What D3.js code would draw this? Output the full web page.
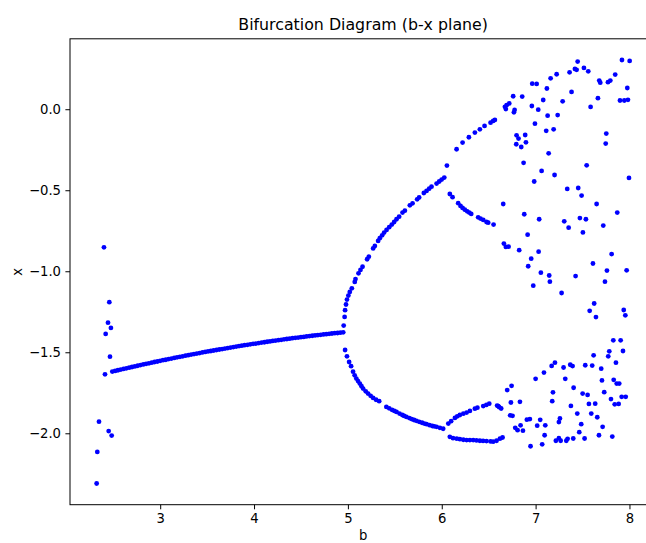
<!DOCTYPE html>
<html>
<head>
<meta charset="utf-8">
<script src="https://cdn.jsdelivr.net/npm/d3@7"></script>
<style>
  html, body { margin: 0; padding: 0; background: #fff; }
  svg { display: block; font-family: "DejaVu Sans", sans-serif; }
</style>
</head>
<body>
<div id="chart"></div>
<script>
// Bifurcation diagram: each entry is [b, x].

// scattered transient points at small b
const transientPts = [
  [2.401,-0.852],[2.458,-1.191],[2.444,-1.317],[2.475,-1.350],[2.419,-1.387],
  [2.465,-1.527],[2.412,-1.636],[2.348,-1.928],[2.451,-1.986],[2.483,-2.014],
  [2.330,-2.115],[2.323,-2.310]
];

// stable fixed point branch
const fixedBranch = [
  [2.49,-1.619],[2.52,-1.615],[2.55,-1.611],[2.58,-1.607],[2.61,-1.603],[2.64,-1.599],
  [2.67,-1.595],[2.70,-1.591],[2.73,-1.587],[2.76,-1.583],[2.79,-1.579],[2.82,-1.575],
  [2.85,-1.571],[2.88,-1.568],[2.91,-1.564],[2.94,-1.560],[2.97,-1.557],[3.00,-1.553],
  [3.03,-1.549],[3.06,-1.546],[3.09,-1.542],[3.12,-1.539],[3.15,-1.535],[3.18,-1.531],
  [3.21,-1.528],[3.24,-1.525],[3.27,-1.521],[3.30,-1.518],[3.33,-1.514],[3.36,-1.511],
  [3.39,-1.508],[3.42,-1.505],[3.45,-1.501],[3.48,-1.498],[3.51,-1.495],[3.54,-1.492],
  [3.57,-1.489],[3.60,-1.486],[3.63,-1.483],[3.66,-1.480],[3.69,-1.477],[3.72,-1.474],
  [3.75,-1.471],[3.78,-1.468],[3.81,-1.465],[3.84,-1.462],[3.87,-1.459],[3.90,-1.456],
  [3.93,-1.454],[3.96,-1.451],[3.99,-1.448],[4.02,-1.446],[4.05,-1.443],[4.08,-1.440],
  [4.11,-1.438],[4.14,-1.435],[4.17,-1.433],[4.20,-1.430],[4.23,-1.428],[4.26,-1.425],
  [4.29,-1.423],[4.32,-1.420],[4.35,-1.418],[4.38,-1.416],[4.41,-1.413],[4.44,-1.411],
  [4.47,-1.409],[4.50,-1.407],[4.53,-1.405],[4.56,-1.402],[4.59,-1.400],[4.62,-1.398],
  [4.65,-1.396],[4.68,-1.394],[4.71,-1.392],[4.74,-1.390],[4.77,-1.388],[4.80,-1.386],
  [4.83,-1.384],[4.86,-1.382],[4.89,-1.381],[4.92,-1.379],[4.95,-1.377]
];

// period-2 orbit, upper branch
const period2Upper = [
  [4.955,-1.335],[4.965,-1.282],[4.970,-1.240],[4.980,-1.205],[4.990,-1.175],
  [5.005,-1.150],[5.020,-1.128],[5.042,-1.105],[5.073,-1.066],[5.081,-1.048],
  [5.113,-1.013],[5.134,-0.992],[5.156,-0.972],[5.205,-0.926],[5.223,-0.910],
  [5.269,-0.859],[5.287,-0.844],[5.322,-0.813],[5.340,-0.796],[5.365,-0.778],
  [5.386,-0.761],[5.412,-0.745],[5.440,-0.728],[5.468,-0.712],[5.493,-0.696],
  [5.518,-0.679],[5.546,-0.663],[5.582,-0.638],[5.607,-0.626],[5.660,-0.593],
  [5.689,-0.581],[5.738,-0.556],[5.759,-0.544],[5.809,-0.517],[5.838,-0.504],
  [5.866,-0.490],[5.891,-0.478],[5.945,-0.459],[5.973,-0.446],[5.999,-0.434],
  [6.027,-0.422]
];

// period-2 orbit, lower branch
const period2Lower = [
  [4.970,-1.486],[4.990,-1.525],[5.013,-1.560],[5.034,-1.586],[5.055,-1.620],
  [5.072,-1.642],[5.090,-1.662],[5.108,-1.678],[5.127,-1.693],[5.145,-1.709],
  [5.162,-1.724],[5.190,-1.741],[5.215,-1.755],[5.242,-1.769],[5.269,-1.782],
  [5.300,-1.793],[5.333,-1.802],[5.410,-1.837],[5.440,-1.846],[5.470,-1.855],
  [5.495,-1.862],[5.518,-1.868],[5.550,-1.878],[5.580,-1.887],[5.600,-1.893],
  [5.624,-1.899],[5.655,-1.906],[5.680,-1.912],[5.705,-1.918],[5.731,-1.923],
  [5.760,-1.929],[5.790,-1.935],[5.815,-1.940],[5.838,-1.944],[5.870,-1.950],
  [5.900,-1.955],[5.920,-1.957],[5.945,-1.960],[5.980,-1.966],[6.015,-1.972]
];

// period-4 orbit, four branches
const period4Pts = [
  // upper-upper
  [6.055,-0.348],[6.158,-0.247],[6.222,-0.206],[6.289,-0.173],[6.353,-0.144],
  [6.406,-0.124],[6.456,-0.103],[6.520,-0.083],[6.548,-0.072],[6.566,-0.066],
  // upper-lower
  [6.086,-0.523],[6.115,-0.543],[6.175,-0.580],[6.200,-0.597],[6.222,-0.609],
  [6.246,-0.620],[6.271,-0.630],[6.293,-0.638],[6.314,-0.646],[6.388,-0.667],
  [6.413,-0.675],[6.442,-0.683],[6.477,-0.696],[6.495,-0.700],[6.552,-0.712],
  // lower-upper
  [6.070,-1.940],[6.100,-1.925],[6.140,-1.905],[6.165,-1.895],[6.193,-1.887],
  [6.230,-1.879],[6.265,-1.872],[6.300,-1.862],[6.353,-1.848],[6.380,-1.842],
  [6.442,-1.832],[6.475,-1.825],[6.506,-1.817],[6.590,-1.829],[6.602,-1.832],
  [6.612,-1.839],[6.633,-1.847],
  // lower-lower
  [6.086,-2.022],[6.120,-2.030],[6.160,-2.033],[6.193,-2.036],[6.230,-2.040],
  [6.265,-2.042],[6.300,-2.042],[6.335,-2.042],[6.370,-2.044],[6.406,-2.046],
  [6.440,-2.047],[6.477,-2.048],[6.520,-2.050],[6.548,-2.052],[6.584,-2.046],
  [6.620,-2.033],[6.648,-2.026]
];

// chaotic regime
const chaosPts = [
  [7.920,0.304],[8.002,0.298],[7.448,0.294],[7.515,0.255],[7.561,0.234],[7.419,0.249],
  [7.437,0.243],[7.362,0.228],[7.848,0.214],[7.224,0.216],[7.160,0.191],[7.678,0.177],
  [7.689,0.164],[7.771,0.167],[7.796,0.177],[6.964,0.158],[7.011,0.156],[7.120,0.128],
  [7.977,0.131],[7.383,0.107],[6.761,0.080],[6.857,0.078],[7.664,0.068],[7.899,0.054],
  [7.945,0.054],[7.984,0.058],[7.081,0.057],[7.288,0.049],[6.719,0.036],[6.691,0.025],
  [6.673,0.015],[6.683,0.001],[6.776,-0.004],[6.769,-0.019],[6.960,0.020],[7.028,-0.003],
  [7.586,0.014],[7.128,-0.040],[7.235,-0.036],[6.993,-0.089],[7.113,-0.133],[7.192,-0.124],
  [6.797,-0.161],[6.818,-0.181],[6.889,-0.159],[6.794,-0.216],[6.847,-0.233],[6.897,-0.204],
  [7.753,-0.150],[7.747,-0.212],[7.139,-0.272],[6.872,-0.331],[7.544,-0.346],[7.064,-0.381],
  [7.202,-0.406],[6.985,-0.446],[7.995,-0.424],[7.337,-0.492],[7.454,-0.486],[7.490,-0.533],
  [6.655,-0.585],[7.650,-0.585],[7.870,-0.638],[6.879,-0.648],[7.038,-0.679],[7.305,-0.692],
  [7.472,-0.672],[7.536,-0.679],[7.352,-0.731],[7.504,-0.760],[7.721,-0.718],[6.915,-0.774],
  [6.662,-0.829],[6.683,-0.850],[6.712,-0.848],[6.825,-0.870],[7.032,-0.879],[6.953,-0.922],
  [6.921,-0.969],[7.810,-0.894],[7.611,-0.952],[7.760,-0.996],[7.970,-0.994],[7.056,-1.009],
  [7.145,-1.026],[7.152,-1.064],[7.426,-1.030],[7.739,-1.064],[6.975,-1.089],[7.277,-1.134],
  [7.624,-1.199],[7.576,-1.244],[7.643,-1.283],[7.939,-1.239],[7.956,-1.272],
  [7.828,-1.426],[7.906,-1.426],[7.785,-1.494],[7.931,-1.492],[7.774,-1.525],[7.618,-1.519],
  [7.856,-1.564],[7.206,-1.564],[7.171,-1.584],[7.089,-1.625],[7.369,-1.577],[7.394,-1.585],
  [7.298,-1.594],[7.529,-1.580],[7.603,-1.582],[7.699,-1.601],[7.000,-1.664],[7.316,-1.664],
  [7.707,-1.674],[7.832,-1.670],[7.864,-1.693],[7.891,-1.693],[6.744,-1.707],[6.697,-1.733],
  [7.405,-1.719],[7.731,-1.746],[7.185,-1.747],[7.501,-1.755],[7.554,-1.763],[7.803,-1.789],
  [7.917,-1.775],[7.960,-1.775],[7.843,-1.821],[7.885,-1.819],[7.177,-1.802],[7.376,-1.831],
  [7.568,-1.819],[7.635,-1.817],[6.737,-1.810],[6.833,-1.806],[7.444,-1.878],[7.593,-1.878],
  [7.657,-1.901],[6.729,-1.889],[6.754,-1.892],[7.259,-1.908],[7.248,-1.931],[6.907,-1.916],
  [6.939,-1.912],[7.049,-1.917],[7.486,-1.944],[7.714,-1.960],[6.840,-1.951],[6.783,-1.966],
  [6.808,-1.981],[6.865,-1.984],[7.017,-1.953],[7.103,-1.951],[7.465,-1.993],[7.096,-2.012],
  [7.675,-2.012],[7.817,-2.020],[7.522,-2.032],[7.248,-2.030],[7.216,-2.046],[7.267,-2.046],
  [7.341,-2.034],[7.327,-2.046],[7.401,-2.032],[6.946,-2.080],[7.070,-2.068]
];

const xTicks = [3, 4, 5, 6, 7, 8];
const yTicks = [-2.0, -1.5, -1.0, -0.5, 0.0];

const width = 646, height = 543;
const plot = { left: 70, top: 38.8, right: 656.3, bottom: 504.7 };
const tickFont = 13.2, titleFont = 15.8;

const allPts = [].concat(transientPts, fixedBranch, period2Upper, period2Lower, period4Pts, chaosPts);

// data extent padded by 5% on each side
function padded(ext) {
  const d = (ext[1] - ext[0]) * 0.05;
  return [ext[0] - d, ext[1] + d];
}
const x = d3.scaleLinear()
  .domain(padded(d3.extent(allPts, d => d[0])))
  .range([plot.left, plot.right]);
const y = d3.scaleLinear()
  .domain(padded(d3.extent(allPts, d => d[1])))
  .range([plot.bottom, plot.top]);

const svg = d3.select("#chart").append("svg")
  .attr("width", width).attr("height", height);

svg.append("rect").attr("width", width).attr("height", height).attr("fill", "#fff");

// points
svg.append("g")
  .selectAll("circle")
  .data(allPts)
  .join("circle")
  .attr("cx", d => x(d[0]))
  .attr("cy", d => y(d[1]))
  .attr("r", 2.4)
  .attr("fill", "#0000ff");

// axes
const tickLen = 4.6, tickPad = 4.4;
const gx = svg.append("g")
  .attr("transform", `translate(0,${plot.bottom})`)
  .call(d3.axisBottom(x).tickValues(xTicks).tickFormat(d3.format("d"))
    .tickSize(tickLen).tickPadding(tickPad).tickSizeOuter(0));
const gy = svg.append("g")
  .attr("transform", `translate(${plot.left},0)`)
  .call(d3.axisLeft(y).tickValues(yTicks).tickFormat(d3.format(".1f"))
    .tickSize(tickLen).tickPadding(tickPad).tickSizeOuter(0));

[gx, gy].forEach(g => {
  g.select(".domain").remove();
  g.selectAll(".tick line").attr("stroke", "#000").attr("stroke-width", 1);
  g.selectAll(".tick text").attr("fill", "#000")
    .style("font-family", "'DejaVu Sans', sans-serif").style("font-size", tickFont + "px");
});

// frame
svg.append("rect")
  .attr("x", plot.left).attr("y", plot.top)
  .attr("width", plot.right - plot.left).attr("height", plot.bottom - plot.top)
  .attr("fill", "none").attr("stroke", "#000").attr("stroke-width", 1);

const cx = (plot.left + plot.right) / 2;

// title
svg.append("text")
  .attr("x", cx).attr("y", 29.5)
  .attr("text-anchor", "middle")
  .style("font-size", titleFont + "px")
  .attr("fill", "#000")
  .text("Bifurcation Diagram (b-x plane)");

// axis labels
svg.append("text")
  .attr("x", cx).attr("y", 540)
  .attr("text-anchor", "middle")
  .style("font-size", tickFont + "px")
  .attr("fill", "#000")
  .text("b");

svg.append("text")
  .attr("transform", `translate(21.5,${(plot.top + plot.bottom) / 2}) rotate(-90)`)
  .attr("text-anchor", "middle")
  .style("font-size", tickFont + "px")
  .attr("fill", "#000")
  .text("x");
</script>
</body>
</html>
